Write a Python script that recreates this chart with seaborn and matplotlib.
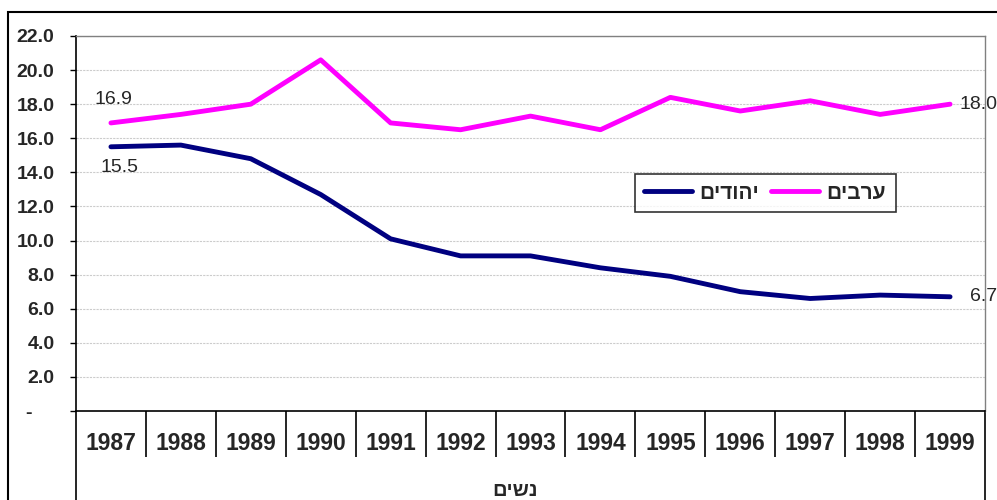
import pandas as pd
import seaborn as sns
import matplotlib.pyplot as plt
from matplotlib.ticker import FixedLocator, FuncFormatter
from matplotlib.patches import Rectangle

# datos
years = [1987, 1988, 1989, 1990, 1991, 1992, 1993, 1994, 1995, 1996, 1997, 1998, 1999]
jews = [15.5, 15.6, 14.8, 12.7, 10.1, 9.1, 9.1, 8.4, 7.9, 7.0, 6.6, 6.8, 6.7]
arabs = [16.9, 17.4, 18.0, 20.6, 16.9, 16.5, 17.3, 16.5, 18.4, 17.6, 18.2, 17.4, 18.0]
series_names = ["יהודים", "ערבים"]
x_title = "נשים"
yticks = [0, 2, 4, 6, 8, 10, 12, 14, 16, 18, 20, 22]


def rtl(s):
    # matplotlib no hace bidi, invertir el texto hebreo
    return s[::-1]


df = pd.DataFrame({
    "year": years * 2,
    "value": jews + arabs,
    "group": [series_names[0]] * len(years) + [series_names[1]] * len(years),
})

sns.set_style("white")
plt.rcParams["font.family"] = ["Liberation Sans", "DejaVu Sans"]

fig, ax = plt.subplots(figsize=(9.97, 5), dpi=100)
fig.subplots_adjust(left=0.0762, right=0.988, bottom=0.178, top=0.928)

palette = {series_names[0]: "#000080", series_names[1]: "#FF00FF"}
sns.lineplot(data=df, x="year", y="value", hue="group", hue_order=series_names,
             palette=palette, linewidth=3.5, ax=ax, legend=True)

ax.set_xlim(years[0] - 0.5, years[-1] + 0.5)
ax.set_ylim(0, 22)

# eje y
ax.yaxis.set_major_locator(FixedLocator(yticks))
ax.yaxis.set_major_formatter(FuncFormatter(
    lambda v, p: "-    " if v == 0 else f"{v:.1f}"))
ax.tick_params(axis="y", which="major", left=True, direction="out", length=4.5,
               width=1, color="black", pad=11, labelsize=14)
for lab in ax.get_yticklabels():
    lab.set_fontweight("bold")
ax.grid(axis="y", color="#cccccc", linewidth=0.8, linestyle=(0, (2, 1)))

# eje x con separadores de categorias
ax.xaxis.set_major_locator(FixedLocator(years))
ax.xaxis.set_minor_locator(FixedLocator([y + 0.5 for y in years[:-1]]))
ax.set_xticklabels([str(y) for y in years], fontsize=16.5, fontweight="bold")
ax.tick_params(axis="x", which="major", bottom=True, length=0, pad=15)
ax.tick_params(axis="x", which="minor", bottom=True, direction="out", length=33,
               width=1.2, color="black")
ax.set_xlabel("")
ax.set_ylabel("")

for side in ["top", "right"]:
    ax.spines[side].set_color("#808080")
    ax.spines[side].set_linewidth(1)
for side in ["left", "bottom"]:
    ax.spines[side].set_color("black")
    ax.spines[side].set_linewidth(1.2)

ax.plot([0, 0], [0, -0.3], transform=ax.transAxes, color="black", lw=1.2, clip_on=False)
ax.plot([1, 1], [0, -0.3], transform=ax.transAxes, color="black", lw=1.2, clip_on=False)

ax.text(0.483, -0.211, rtl(x_title), transform=ax.transAxes, ha="center",
        va="center", fontsize=14.5, fontweight="bold")

# etiquetas de datos
ax.annotate(f"{arabs[0]:.1f}", (years[0], arabs[0]), xytext=(2, 17),
            textcoords="offset points", ha="center", va="center", fontsize=14)
ax.annotate(f"{jews[0]:.1f}", (years[0], jews[0]), xytext=(6, -15),
            textcoords="offset points", ha="center", va="center", fontsize=14)
ax.annotate(f"{arabs[-1]:.1f}", (years[-1], arabs[-1]), xytext=(7, 0),
            textcoords="offset points", ha="left", va="center", fontsize=14)
ax.annotate(f"{jews[-1]:.1f}", (years[-1], jews[-1]), xytext=(14, 0),
            textcoords="offset points", ha="left", va="center", fontsize=14)

# leyenda
handles, labels = ax.get_legend_handles_labels()
leg = ax.legend(handles, [rtl(l) for l in labels], loc="center",
                bbox_to_anchor=(0.758, 0.581), ncol=2, frameon=True,
                fancybox=False, edgecolor="black", handlelength=2.3,
                handletextpad=0.35, columnspacing=0.6, borderpad=0.45,
                prop={"size": 15, "weight": "bold"})
leg.get_frame().set_linewidth(1.2)
for line in leg.get_lines():
    line.set_linewidth(3.5)

# marco exterior
fig.add_artist(Rectangle((8 / 997, -0.05), 1.0, 1 - 12 / 500 + 0.05,
                         transform=fig.transFigure, fill=False,
                         edgecolor="black", linewidth=1.5))

fig.savefig("out.png", dpi=100)
